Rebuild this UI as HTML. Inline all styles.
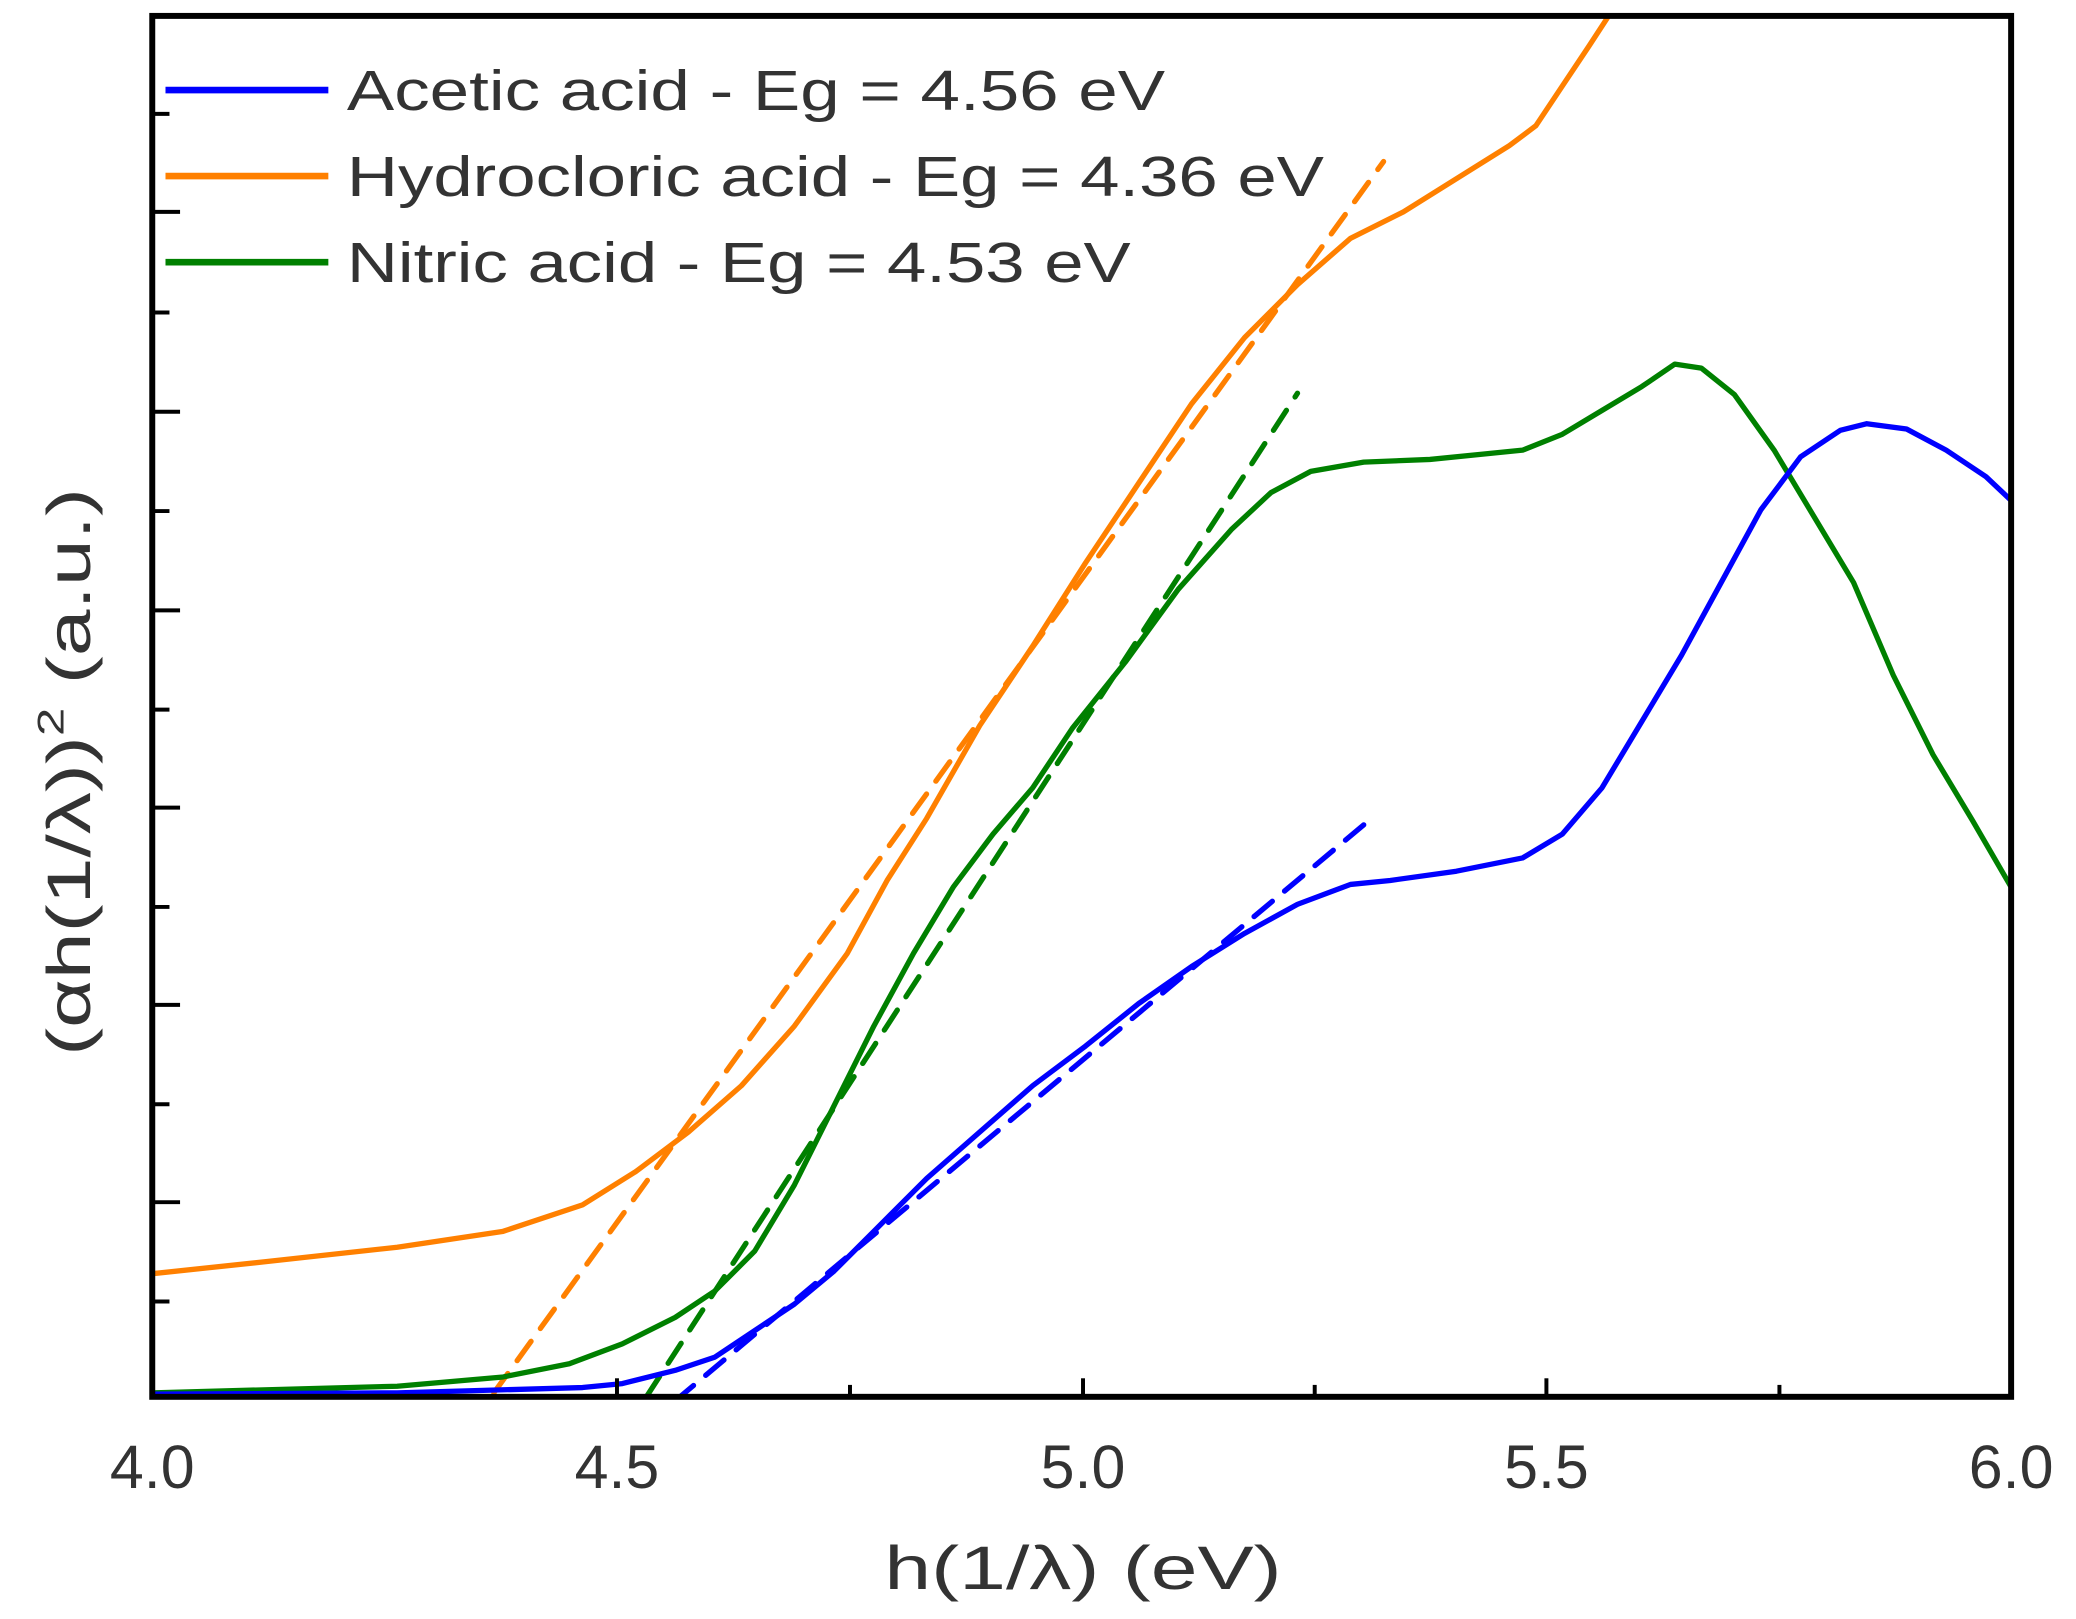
<!DOCTYPE html>
<html><head><meta charset="utf-8"><style>html,body{margin:0;padding:0;background:#fff}svg{display:block}</style></head>
<body>
<svg width="2076" height="1619" viewBox="0 0 1568 1222.8" xmlns="http://www.w3.org/2000/svg" font-family="Liberation Sans, sans-serif">
<rect width="1568" height="1222.8" fill="#fff"/>
<g fill="none" stroke-linejoin="round" stroke-linecap="round">
<polyline stroke="#ff8000" stroke-width="4" points="115,962 200,953 300,942 380,930 440,910 480,885 520,855 560,820 600,775 640,720 670,665 700,618 740,548 780,488 820,425 860,365 900,305 940,255 980,215 1020,180 1060,160 1100,135 1140,110 1160,95 1180,65 1200,35 1215,12"/>
<line x1="373" y1="1052" x2="1045" y2="122" stroke="#ff8000" stroke-width="4" stroke-dasharray="18,12"/>
<polyline stroke="#008000" stroke-width="4" points="115,1052 300,1047 380,1040 430,1030 470,1015 510,995 540,975 570,945 600,895 630,835 660,775 690,720 720,670 750,630 780,595 810,550 850,500 890,445 930,400 960,372 990,356 1030,349 1080,347 1120,343 1150,340 1180,328 1210,310 1240,292 1265,275 1285,278 1310,298 1340,340 1370,390 1400,440 1430,510 1460,570 1490,620 1519,670"/>
<line x1="472" y1="1080" x2="980" y2="297" stroke="#008000" stroke-width="4" stroke-dasharray="18,12"/>
<polyline stroke="#0000ff" stroke-width="4" points="115,1053 300,1052 440,1048 470,1045 510,1035 540,1025 570,1005 600,985 630,960 660,930 700,890 740,855 780,820 820,790 860,758 900,730 940,705 980,683 1020,668 1050,665 1100,658 1150,648 1180,630 1210,595 1240,545 1270,495 1300,440 1330,385 1360,345 1390,325 1410,320 1440,324 1470,340 1500,360 1519,378"/>
<line x1="510" y1="1058" x2="1030" y2="623" stroke="#0000ff" stroke-width="4" stroke-dasharray="18,12"/>
</g>
<rect x="0" y="1057" width="1568" height="170" fill="#fff"/>
<g stroke="#000" stroke-width="3">
<line x1="115" y1="1011" x2="115" y2="1055"/>
<line x1="466" y1="1041" x2="466" y2="1055"/><line x1="818" y1="1041" x2="818" y2="1055"/><line x1="1168" y1="1041" x2="1168" y2="1055"/>
<line x1="642" y1="1046" x2="642" y2="1055"/><line x1="993" y1="1046" x2="993" y2="1055"/><line x1="1344" y1="1046" x2="1344" y2="1055"/>
<line x1="115" y1="160" x2="136" y2="160"/><line x1="115" y1="311" x2="136" y2="311"/><line x1="115" y1="461" x2="136" y2="461"/><line x1="115" y1="610" x2="136" y2="610"/><line x1="115" y1="759" x2="136" y2="759"/><line x1="115" y1="908" x2="136" y2="908"/>
<line x1="115" y1="86" x2="128" y2="86"/><line x1="115" y1="236" x2="128" y2="236"/><line x1="115" y1="386" x2="128" y2="386"/><line x1="115" y1="536" x2="128" y2="536"/><line x1="115" y1="685" x2="128" y2="685"/><line x1="115" y1="834" x2="128" y2="834"/><line x1="115" y1="983" x2="128" y2="983"/>
</g>
<rect x="115" y="12" width="1404" height="1043" fill="none" stroke="#000" stroke-width="4.5"/>
<g stroke-width="5">
<line x1="125" y1="68" x2="248" y2="68" stroke="#0000ff"/>
<line x1="125" y1="133" x2="248" y2="133" stroke="#ff8000"/>
<line x1="125" y1="198" x2="248" y2="198" stroke="#008000"/>
</g>
<g fill="#333" font-size="43">
<text x="262" y="83" textLength="618" lengthAdjust="spacingAndGlyphs">Acetic acid - Eg = 4.56 eV</text>
<text x="262" y="148" textLength="738" lengthAdjust="spacingAndGlyphs">Hydrocloric acid - Eg = 4.36 eV</text>
<text x="262" y="213" textLength="592" lengthAdjust="spacingAndGlyphs">Nitric acid - Eg = 4.53 eV</text>
</g>
<g fill="#333" font-size="46" text-anchor="middle">
<text x="115" y="1124">4.0</text><text x="466" y="1124">4.5</text><text x="818" y="1124">5.0</text><text x="1168" y="1124">5.5</text><text x="1519" y="1124">6.0</text>
<text x="818" y="1200" textLength="300" lengthAdjust="spacingAndGlyphs">h(1/λ) (eV)</text>
<text transform="translate(68,583) rotate(-90)" textLength="429" lengthAdjust="spacingAndGlyphs">(αh(1/λ))<tspan font-size="28" dy="-20">2</tspan><tspan dy="20"> (a.u.)</tspan></text>
</g>
</svg>
</body></html>
